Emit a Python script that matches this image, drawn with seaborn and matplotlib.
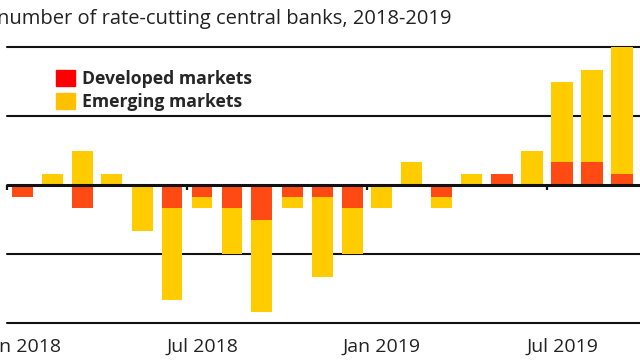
import matplotlib
matplotlib.use('agg')
import matplotlib.pyplot as plt
from matplotlib.patches import Patch
import numpy as np
import pandas as pd
import seaborn as sns

# monthly net number of rate-cutting central banks
months = ['2018-01', '2018-02', '2018-03', '2018-04', '2018-05', '2018-06', '2018-07',
          '2018-08', '2018-09', '2018-10', '2018-11', '2018-12', '2019-01', '2019-02',
          '2019-03', '2019-04', '2019-05', '2019-06', '2019-07', '2019-08', '2019-09']
developed = [-1, 0, -2, 0, 0, -2, -1, -2, -3, -1, -1, -2, 0, 0, -1, 0, 1, 0, 2, 2, 1]
emerging = [0, 1, 3, 1, -4, -8, -1, -4, -8, -1, -7, -4, -2, 2, -1, 1, 0, 3, 7, 8, 11]
tick_months = {'2018-01': 'Jan 2018', '2018-07': 'Jul 2018',
               '2019-01': 'Jan 2019', '2019-07': 'Jul 2019'}
title = 'number of rate-cutting central banks, 2018-2019'

DEV_COLOR = '#FF4A14'
EM_COLOR = '#FFCC00'
FONT = 'Open Sans'

dev = np.array(developed)
em = np.array(emerging)
# emerging stacks on top of developed when both share a sign
same_sign = np.sign(dev) == np.sign(em)
em_top = em + np.where(same_sign, dev, 0)

df = pd.DataFrame({'month': months, 'dev': dev, 'em_top': em_top})

sns.set_style('white')
plt.rcParams['font.family'] = [FONT, 'DejaVu Sans']

fig = plt.figure(figsize=(6.4, 3.6), dpi=100)
ax = fig.add_axes([7 / 640, 37 / 360, 633 / 640, 276 / 360])

for y in [-12, -6, 6, 12]:
    ax.axhline(y, color='#111111', lw=1.5, zorder=0, clip_on=False)

sns.barplot(data=df, x='month', y='em_top', color=EM_COLOR, saturation=1,
            width=0.7, linewidth=0, ax=ax, zorder=2)
sns.barplot(data=df, x='month', y='dev', color=DEV_COLOR, saturation=1,
            width=0.7, linewidth=0, ax=ax, zorder=3)

ax.axhline(0, color='#111111', lw=2.2, zorder=4, clip_on=False)

ticks = [months.index(m) for m in tick_months]
ax.vlines(np.array(ticks) - 0.5, -0.45, 0, color='#111111', lw=1.6, zorder=4, clip_on=False)
ax.set_xticks(ticks, list(tick_months.values()))
ax.tick_params(axis='x', length=0, pad=11, labelsize=14, labelcolor='#222222')
ax.set_yticks([])
ax.set_xlim(-0.5, 20.6)
ax.set_ylim(-12, 12)
ax.set_xlabel('')
ax.set_ylabel('')
sns.despine(ax=ax, left=True, bottom=True)

fig.text(-0.004, 1 - 24 / 360, title, fontsize=14.5, color='#222222', va='baseline', ha='left')

handles = [Patch(color='#FF0000', label='Developed markets'),
           Patch(color='#FFC000', label='Emerging markets')]
ax.legend(handles=handles, loc='upper left', bbox_to_anchor=(56 / 640, 1 - 70 / 360),
          bbox_transform=fig.transFigure, frameon=False, borderpad=0, borderaxespad=0,
          handlelength=1.05, handleheight=1.05, handletextpad=0.45, labelspacing=0.25,
          prop={'weight': 'bold', 'size': 12.7})

fig.savefig('out.png', dpi=100)
